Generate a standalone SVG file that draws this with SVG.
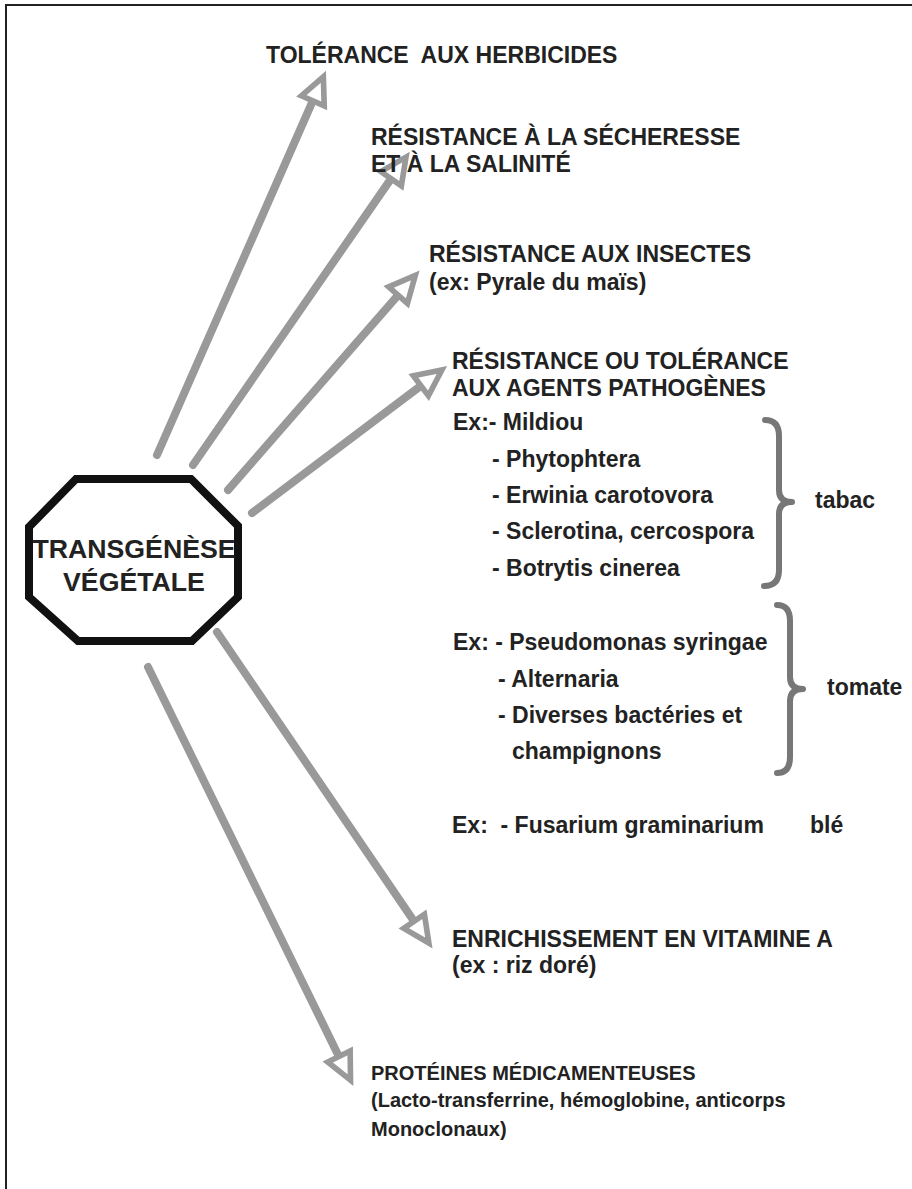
<svg xmlns="http://www.w3.org/2000/svg" width="912" height="1189" viewBox="0 0 912 1189">
<style>
text{font-family:"Liberation Sans",Arial,sans-serif;fill:#222;font-weight:bold;white-space:pre}
.h{font-size:23px}
.s{font-size:20px}
.c{font-size:26.7px;text-anchor:middle}
.arr{stroke:#999;stroke-width:8;stroke-linecap:round;fill:none}
.br{stroke:#777;stroke-width:6;fill:none;stroke-linecap:round;stroke-linejoin:round}
</style>
<defs>
<marker id="ah" markerUnits="userSpaceOnUse" markerWidth="40" markerHeight="40" viewBox="-5 -16 32 32" refX="3" refY="0" orient="auto">
<path d="M0,-10 L21,0 L0,10 Z" fill="#fff" stroke="#999" stroke-width="4.5" stroke-linejoin="miter"/>
</marker>
</defs>
<rect width="912" height="1189" fill="#fff"/>
<path d="M6,1189 L6,5 L912,5" fill="none" stroke="#222" stroke-width="2"/>
<g id="connectors">
<line class="arr" x1="157" y1="455" x2="314.3" y2="97.4" marker-end="url(#ah)"/>
<line class="arr" x1="193" y1="465" x2="393.2" y2="175.6" marker-end="url(#ah)"/>
<line class="arr" x1="228" y1="490" x2="400.5" y2="292.3" marker-end="url(#ah)"/>
<line class="arr" x1="252" y1="513" x2="423.9" y2="383.5" marker-end="url(#ah)"/>
<line class="arr" x1="217" y1="632" x2="416.2" y2="924.4" marker-end="url(#ah)"/>
<line class="arr" x1="148" y1="667" x2="340.6" y2="1059.9" marker-end="url(#ah)"/>
</g>
<g id="center">
<polygon points="76,479 191,479 238,526 238,597 192,641 78,641 29,597 29,527" fill="#fff" stroke="#111" stroke-width="8"/>
<text class="c" x="134" y="558">TRANSGÉNÈSE</text>
<text class="c" x="134" y="591">VÉGÉTALE</text>
</g>
<g id="herbicides">
<text class="h" x="266" y="63">TOLÉRANCE  AUX HERBICIDES</text>
</g>
<g id="secheresse">
<text class="h" x="371" y="145">RÉSISTANCE À LA SÉCHERESSE</text>
<text class="h" x="371" y="172">ET À LA SALINITÉ</text>
</g>
<g id="insectes">
<text class="h" x="429" y="262">RÉSISTANCE AUX INSECTES</text>
<text class="h" x="429" y="290">(ex: Pyrale du maïs)</text>
</g>
<g id="pathogenes">
<text class="h" x="452" y="369">RÉSISTANCE OU TOLÉRANCE</text>
<text class="h" x="452" y="396">AUX AGENTS PATHOGÈNES</text>
</g>
<g id="tabac">
<text class="h" x="453" y="430">Ex:- Mildiou</text>
<text class="h" x="492" y="467">- Phytophtera</text>
<text class="h" x="492" y="503">- Erwinia carotovora</text>
<text class="h" x="492" y="539">- Sclerotina, cercospora</text>
<text class="h" x="492" y="576">- Botrytis cinerea</text>
<path class="br" d="M765,420 Q779,420 779,436 L779,490 Q779,502 792,502 Q779,502 779,514 L779,570 Q779,586 764,586"/>
<text class="h" x="815" y="508">tabac</text>
</g>
<g id="tomate">
<text class="h" x="453" y="650">Ex: - Pseudomonas syringae</text>
<text class="h" x="498" y="687">- Alternaria</text>
<text class="h" x="498" y="723">- Diverses bactéries et</text>
<text class="h" x="512" y="759">champignons</text>
<path class="br" d="M777,605 Q790,605 790,621 L790,677 Q790,689 803,689 Q790,689 790,701 L790,757 Q790,773 777,773"/>
<text class="h" x="827" y="695">tomate</text>
</g>
<g id="ble">
<text class="h" x="452" y="833">Ex:  - Fusarium graminarium</text>
<text class="h" x="810" y="833">blé</text>
</g>
<g id="vitamine">
<text class="h" x="452" y="947">ENRICHISSEMENT EN VITAMINE A</text>
<text class="h" x="452" y="973">(ex : riz doré)</text>
</g>
<g id="proteines">
<text class="s" x="371" y="1080">PROTÉINES MÉDICAMENTEUSES</text>
<text class="s" x="371" y="1107">(Lacto-transferrine, hémoglobine, anticorps</text>
<text class="s" x="371" y="1136">Monoclonaux)</text>
</g>
</svg>
